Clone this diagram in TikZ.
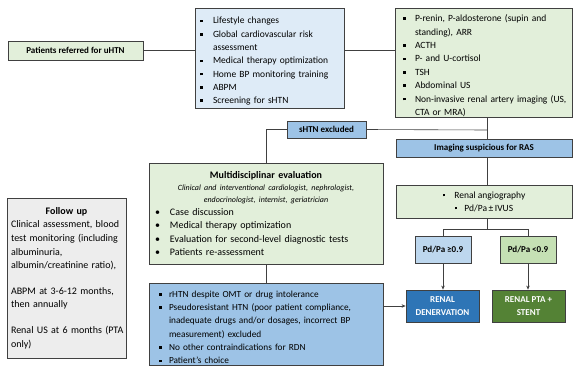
\documentclass[tikz,border=0pt]{standalone}
\usepackage{fontspec}
\setmainfont{Carlito}
\usetikzlibrary{arrows.meta,shadows}
\definecolor{lgreen}{HTML}{E2EFDA}
\definecolor{lblue}{HTML}{DEEBF7}
\definecolor{mblue}{HTML}{9DC3E6}
\definecolor{pblue}{HTML}{BDD7EE}
\definecolor{mgreen}{HTML}{C5E0B4}
\definecolor{dblue}{HTML}{2E75B6}
\definecolor{dgreen}{HTML}{548235}
\definecolor{lgray}{HTML}{EDEDED}
\definecolor{edge}{HTML}{404040}
\newcommand\sqbul{\raisebox{1.7pt}{\rule{2.6pt}{2.6pt}}}
\newcommand\sqitem[3]{\par\hangindent=#2\hangafter=1\noindent\makebox[#2][l]{\hspace{#1}\sqbul}#3\par}
\newcommand\rditem[3]{\par\hangindent=#2\hangafter=1\noindent\makebox[#2][l]{\hspace{#1}\textbullet}#3\par}
\tikzset{
  box/.style={draw=edge, line width=0.8pt, rectangle, inner sep=0pt,
    drop shadow={shadow xshift=0.8pt, shadow yshift=-0.8pt, fill=black!45}},
  lbox/.style={box, align=left},
  conn/.style={draw=edge, line width=0.6pt},
  arr/.style={conn, -{Stealth[length=4pt,width=3.5pt]}},
}
\begin{document}
\begin{tikzpicture}[x=1pt,y=-1pt]
\useasboundingbox (0,0) rectangle (578,367);

% boxes
\node[box, fill=lgreen, minimum width=135pt, minimum height=19pt,
  font=\fontsize{9}{11}\selectfont\bfseries] (uhtn) at (75.5,50.5) {Patients referred for uHTN};

\node[lbox, fill=lblue, minimum width=149pt, minimum height=100pt, text width=149pt,
  font=\fontsize{9.5}{13.3}\selectfont] (life) at (269.5,58) {%
  \sqitem{5pt}{18pt}{Lifestyle changes}%
  \sqitem{5pt}{18pt}{Global cardiovascular risk\newline assessment}%
  \sqitem{5pt}{18pt}{Medical therapy optimization}%
  \sqitem{5pt}{18pt}{Home BP monitoring training}%
  \sqitem{5pt}{18pt}{ABPM}%
  \sqitem{5pt}{18pt}{Screening for sHTN}};

\node[lbox, fill=lgreen, minimum width=177pt, minimum height=109pt, text width=177pt,
  font=\fontsize{9.5}{13.4}\selectfont] (tests) at (483.5,62.5) {%
  \sqitem{8pt}{20pt}{P-renin, P-aldosterone (supin and\newline standing), ARR}%
  \sqitem{8pt}{20pt}{ACTH}%
  \sqitem{8pt}{20pt}{P- and U-cortisol}%
  \sqitem{8pt}{20pt}{TSH}%
  \sqitem{8pt}{20pt}{Abdominal US}%
  \sqitem{8pt}{20pt}{Non-invasive renal artery imaging (US,\newline CTA or MRA)}};

\node[box, fill=mblue, minimum width=79pt, minimum height=17pt,
  font=\fontsize{9}{11}\selectfont\bfseries] (shtn) at (326.5,129.5) {sHTN excluded};

\node[box, fill=mblue, minimum width=176pt, minimum height=18pt,
  font=\fontsize{9}{11}\selectfont\bfseries] (img) at (484,148) {Imaging suspicious for RAS};

\node[lbox, fill=lgreen, minimum width=234pt, minimum height=101pt, text width=234pt] (md) at (266,213.5) {%
  {\centering\fontsize{10}{12}\selectfont\bfseries Multidisciplinar evaluation\par}%
  {\centering\fontsize{8}{12}\selectfont\itshape Clinical and interventional cardiologist, nephrologist,\\ endocrinologist, internist, geriatrician\par}%
  \fontsize{10}{13.3}\selectfont
  \rditem{6pt}{21pt}{Case discussion}%
  \rditem{6pt}{21pt}{Medical therapy optimization}%
  \rditem{6pt}{21pt}{Evaluation for second-level diagnostic tests}%
  \rditem{6pt}{21pt}{Patients re-assessment}};

\node[box, fill=lgreen, minimum width=176pt, minimum height=33pt, align=center,
  font=\fontsize{9.5}{13}\selectfont] (ang) at (484,201.5) {%
  \sqbul\hspace{9pt}Renal angiography\\\sqbul\hspace{7pt}Pd/Pa\,±\,IVUS};

\node[box, fill=pblue, minimum width=56pt, minimum height=27pt,
  font=\fontsize{9}{11}\selectfont\bfseries] (pdhi) at (443,249.5) {Pd/Pa ≥0.9};
\node[box, fill=mgreen, minimum width=56pt, minimum height=27pt,
  font=\fontsize{9}{11}\selectfont\bfseries] (pdlo) at (528,249.5) {Pd/Pa <0.9};

\node[box, fill=dblue, text=white, minimum width=73pt, minimum height=32pt, align=center,
  font=\fontsize{9}{12.5}\selectfont\bfseries] (rdn) at (442.5,306) {RENAL\\DENERVATION};
\node[box, fill=dgreen, text=white, minimum width=73pt, minimum height=32pt, align=center,
  font=\fontsize{9}{12.5}\selectfont\bfseries] (pta) at (528.5,306) {RENAL PTA +\\STENT};

\node[lbox, fill=mblue, minimum width=234pt, minimum height=82pt, text width=234pt,
  font=\fontsize{9.3}{13.3}\selectfont] (rhtn) at (266,324) {%
  \sqitem{10pt}{20pt}{rHTN despite OMT or drug intolerance}%
  \sqitem{10pt}{20pt}{Pseudoresistant HTN (poor patient compliance,\newline inadequate drugs and/or dosages, incorrect BP\newline measurement) excluded}%
  \sqitem{10pt}{20pt}{No other contraindications for RDN}%
  \sqitem{10pt}{20pt}{Patient’s choice}};

\node[lbox, fill=lgray, minimum width=119pt, minimum height=160pt, text width=111pt,
  font=\fontsize{10}{13.6}\selectfont] (fu) at (66.5,278) {%
  {\centering\bfseries Follow up\par}%
  \mbox{Clinical assessment, blood}\\
  \mbox{test monitoring (including}\\
  \mbox{albuminuria,}\\
  \mbox{albumin/creatinine ratio),}\\[12pt]
  \mbox{ABPM at 3-6-12 months,}\\
  \mbox{then annually}\\[12pt]
  \mbox{Renal US at 6 months (PTA}\\
  \mbox{only)}\par};

% connectors
\coordinate (j1) at (487,130);
\draw[conn] (uhtn.east) -- (uhtn.east -| life.west);
\draw[conn] (life.east |- 0,50) -- (tests.west |- 0,50);
\draw[conn] (tests.south -| j1) -- (img.north -| j1);
\draw[conn] (shtn.east) -- (j1);
\draw[conn] (shtn.west) -| (md.north);
\draw[conn] (img.south -| j1) -- (ang.north -| j1);
\draw[conn] (ang.south -| j1) -- ++(0,11) coordinate (j2);
\draw[conn] (pdhi.north) |- (j2) -| (pdlo.north);
\draw[arr] (pdhi.south) -- (rdn.north -| pdhi.south);
\draw[arr] (pdlo.south) -- (pta.north -| pdlo.south);
\draw[conn] (md.south) -- (rhtn.north);
\draw[arr] (rdn.west -| rhtn.east) -- (rdn.west);
\end{tikzpicture}
\end{document}
